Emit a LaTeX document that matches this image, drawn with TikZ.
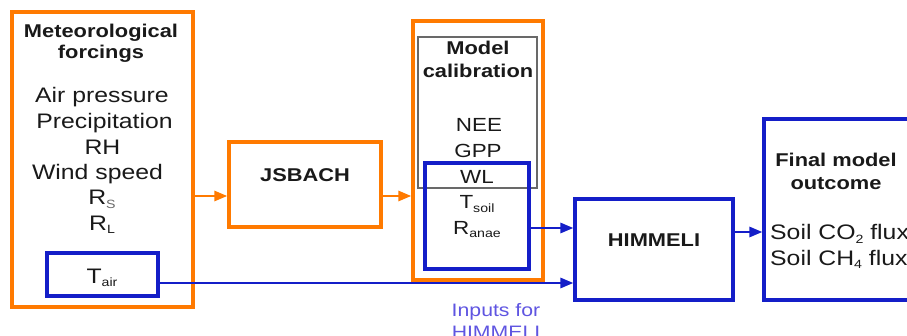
\documentclass[tikz,border=0pt]{standalone}
\usepackage{fontspec}
\setmainfont[FakeStretch=1.18]{Liberation Sans}
\usetikzlibrary{arrows.meta}
\definecolor{org}{RGB}{255,122,0}
\definecolor{blu}{RGB}{20,30,200}
\definecolor{lav}{RGB}{95,85,225}
\definecolor{gbx}{RGB}{105,105,105}
\definecolor{txt}{RGB}{25,25,25}
\newcommand{\mysub}[1]{\raisebox{-0.35ex}{\fontsize{12}{12}\selectfont #1}}
\begin{document}
\begin{tikzpicture}[x=1pt,y=-1pt,
  obox/.style={draw=org,line width=3.3pt,inner sep=0pt},
  bbox/.style={draw=blu,line width=3.1pt,inner sep=0pt},
  gbox/.style={draw=gbx,line width=1.2pt,inner sep=0pt},
  oarr/.style={draw=org,line width=2.7pt,-{Triangle[length=13pt,width=10pt]}},
  barr/.style={draw=blu,line width=2.7pt,-{Triangle[length=13pt,width=10pt]}},
  reg/.style={anchor=base,inner sep=0pt,text=txt,font=\fontsize{21}{24}\selectfont},
  mreg/.style={anchor=base,inner sep=0pt,text=txt,font=\fontsize{19}{22}\selectfont},
  ttl/.style={anchor=base,inner sep=0pt,text=txt,font=\fontsize{18.5}{21}\selectfont\bfseries},
]
\useasboundingbox (0,0) rectangle (907,335);
% boxes
\node[obox,minimum width=181pt,minimum height=295pt] (met) at (102.5,159.5) {};
\node[bbox,minimum width=111pt,minimum height=43pt] (tair) at (102.5,274.5) {};
\node[obox,minimum width=152pt,minimum height=85pt] (jsb) at (305,184.5) {};
\node[obox,minimum width=130pt,minimum height=259pt] (mid) at (478,150.5) {};
\node[gbox,minimum width=119pt,minimum height=151pt] (cal) at (477.5,112.5) {};
\node[bbox,minimum width=104pt,minimum height=106pt] (inp) at (477,216) {};
\node[bbox,minimum width=158pt,minimum height=101pt] (him) at (654,249.5) {};
\node[bbox,minimum width=200pt,minimum height=181pt] (fin) at (864,209.5) {};
% left texts
\node[ttl] (t1) at (101,37.3) {Meteorological};
\node[ttl] (t2) at (101,58.5) {forcings};
\node[reg] (l1) at (102,102) {Air pressure};
\node[reg] (l2) at (104.5,128) {Precipitation};
\node[reg] (l3) at (102.5,154) {RH};
\node[reg] (l4) at (97.5,179.5) {Wind speed};
\node[reg] (l5) at (102,204.5) {R\mysub{\textcolor{gbx}{S}}};
\node[reg] (l6) at (102,230) {R\mysub{L}};
\node[reg] (l7) at (102,283) {T\mysub{air}};
% JSBACH / HIMMELI
\node[ttl] (j) at (305,181.5) {JSBACH};
\node[ttl] (h) at (654,246.5) {HIMMELI};
% middle texts
\node[ttl] (c1) at (478,54.3) {Model};
\node[ttl] (c2) at (478,77.3) {calibration};
\node[mreg] (m1) at (479,131) {NEE};
\node[mreg] (m2) at (478,157) {GPP};
\node[mreg] (m3) at (477,183) {WL};
\node[mreg] (m4) at (477,208.5) {T\mysub{soil}};
\node[mreg] (m5) at (477,234) {R\mysub{anae}};
% final texts
\node[ttl] (f1) at (836,166.7) {Final model};
\node[ttl] (f2) at (836,189) {outcome};
\node[reg,anchor=base west] (f3) at (770,239.5) {Soil CO\mysub{2} flux};
\node[reg,anchor=base west] (f4) at (770,265) {Soil CH\mysub{4} flux};
% inputs label
\node[anchor=base,inner sep=0pt,text=lav,font=\fontsize{18}{21}\selectfont] (i1) at (496,316) {Inputs for};
\node[anchor=base,inner sep=0pt,text=lav,font=\fontsize{18}{21}\selectfont] (i2) at (496,338) {HIMMELI};
% connectors
\draw[oarr] ([yshift=-11.5pt]jsb.west -| met.east) -- ([yshift=-11.5pt]jsb.west);
\draw[oarr] ([yshift=-11.5pt]jsb.east) -- ([yshift=-11.5pt]jsb.east -| mid.west);
\draw[barr] ([yshift=-12pt]inp.east) -- ([yshift=-12pt]inp.east -| him.west);
\draw[barr] ([yshift=-8.5pt]tair.east) -- ([yshift=-8.5pt]tair.east -| him.west);
\draw[barr] ([yshift=17.5pt]him.east) -- ([yshift=17.5pt]him.east -| fin.west);
\end{tikzpicture}
\end{document}
